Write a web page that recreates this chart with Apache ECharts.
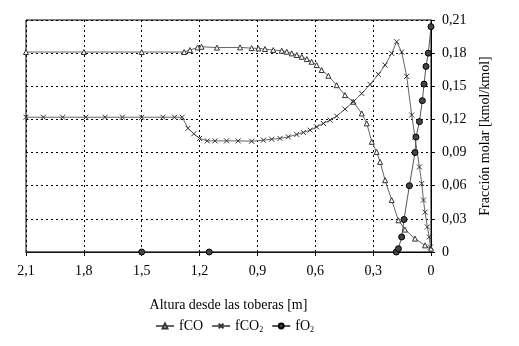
<!DOCTYPE html>
<html>
<head>
<meta charset="utf-8">
<script src="https://cdn.jsdelivr.net/npm/echarts@6/dist/echarts.min.js"></script>
<style>
  html, body { margin: 0; padding: 0; background: #fff; }
  #chart { width: 519px; height: 346px; }
</style>
</head>
<body>
<div id="chart"></div>
<script>
// alturas [m] y fracciones molares [kmol/kmol]
const coAltura = [2.1, 1.8, 1.5, 1.28, 1.25, 1.21, 1.19, 1.11, 0.99, 0.93, 0.895, 0.861, 0.818, 0.774, 0.748, 0.722, 0.696, 0.67, 0.644, 0.619, 0.593, 0.567, 0.532, 0.489, 0.446, 0.403, 0.359, 0.333, 0.307, 0.282, 0.264, 0.238, 0.204, 0.169, 0.135, 0.083, 0.031, 0];
const coFrac = [0.181, 0.181, 0.181, 0.181, 0.1828, 0.1852, 0.1858, 0.185, 0.1852, 0.1845, 0.1843, 0.1837, 0.1828, 0.1822, 0.1813, 0.1798, 0.1783, 0.1767, 0.1746, 0.1722, 0.1692, 0.1647, 0.1595, 0.151, 0.142, 0.136, 0.1254, 0.1164, 0.0997, 0.0906, 0.0816, 0.065, 0.047, 0.0287, 0.0203, 0.0121, 0.006, 0.003];

const co2Altura = [2.1, 2.01, 1.91, 1.79, 1.69, 1.6, 1.5, 1.39, 1.33, 1.29, 1.26, 1.23, 1.2, 1.16, 1.12, 1.06, 1.0, 0.93, 0.869, 0.826, 0.783, 0.74, 0.696, 0.662, 0.627, 0.593, 0.558, 0.523, 0.489, 0.446, 0.403, 0.359, 0.316, 0.273, 0.238, 0.204, 0.178, 0.152, 0.126, 0.1, 0.083, 0.06, 0.048, 0.039, 0.031, 0.019, 0.009, 0.003];
const co2Frac = [0.122, 0.122, 0.122, 0.122, 0.122, 0.122, 0.122, 0.122, 0.122, 0.122, 0.112, 0.107, 0.1028, 0.1006, 0.1006, 0.1006, 0.1006, 0.1003, 0.1012, 0.1021, 0.1028, 0.1042, 0.1064, 0.1082, 0.1103, 0.1133, 0.1164, 0.1194, 0.123, 0.1293, 0.136, 0.1435, 0.1517, 0.1608, 0.1692, 0.1798, 0.1903, 0.181, 0.159, 0.124, 0.104, 0.077, 0.062, 0.047, 0.036, 0.0227, 0.0136, 0.0045];

const o2Altura = [2.1, 1.5, 1.15, 0.18, 0.169, 0.152, 0.14, 0.112, 0.083, 0.078, 0.06, 0.045, 0.036, 0.026, 0.014, 0];
const o2Frac = [0, 0, 0, 0, 0.003, 0.0136, 0.0294, 0.06, 0.09, 0.104, 0.118, 0.137, 0.152, 0.168, 0.18, 0.204];

const xTicks = [0, 0.3, 0.6, 0.9, 1.2, 1.5, 1.8, 2.1];
const yTicks = [0, 0.03, 0.06, 0.09, 0.12, 0.15, 0.18, 0.21];

const pares = (xs, ys) => xs.map((x, i) => [x, ys[i]]);
const coma = v => (Math.round(v * 100) / 100).toString().replace(".", ",");
const font = "Liberation Serif";

// el primer punto de fO2 (en la esquina) no lleva marcador
const o2Datos = pares(o2Altura, o2Frac).map((p, i) => i === 0 ? { value: p, symbol: "none" } : p);

const chart = echarts.init(document.getElementById("chart"));

chart.setOption({
  backgroundColor: "#fff",
  animation: false,
  textStyle: { fontFamily: font, color: "#000" },
  grid: {
    left: 26,
    top: 20,
    width: 405,
    height: 232,
    show: true,
    borderColor: "#000",
    borderWidth: 1,
  },
  legend: {
    top: 314,
    left: 150,
    itemWidth: 18,
    itemHeight: 6,
    itemGap: 8,
    textStyle: {
      fontFamily: font,
      fontSize: 14,
      color: "#000",
      rich: {
        n: { fontFamily: font, fontSize: 14, color: "#000" },
        s: { fontFamily: font, fontSize: 8, color: "#000", padding: [7, 0, 0, 0] },
      },
    },
    formatter: name => name === "fCO" ? "{n|fCO}" : "{n|" + name.slice(0, -1) + "}{s|2}",
    data: ["fCO", "fCO2", "fO2"],
  },
  xAxis: {
    type: "value",
    inverse: true,
    min: 0,
    max: 2.1,
    interval: 0.3,
    name: "Altura desde las toberas [m]",
    nameLocation: "middle",
    nameGap: 46,
    nameTextStyle: { fontFamily: font, fontSize: 14, color: "#000" },
    axisLine: { lineStyle: { color: "#000", width: 1 } },
    axisTick: { show: true, length: 4, lineStyle: { color: "#000" } },
    axisLabel: {
      fontFamily: font,
      fontSize: 14,
      color: "#000",
      margin: 12,
      formatter: v => xTicks.some(t => Math.abs(t - v) < 1e-6) ? coma(v) : "",
    },
    splitLine: { show: true, lineStyle: { color: "#000", type: [2, 3], width: 1 } },
  },
  yAxis: {
    type: "value",
    position: "right",
    min: 0,
    max: 0.21,
    interval: 0.03,
    name: "Fracción molar [kmol/kmol]",
    nameLocation: "middle",
    nameGap: 47,
    nameRotate: 90,
    nameTextStyle: { fontFamily: font, fontSize: 14, color: "#000" },
    axisLine: { show: true, lineStyle: { color: "#000", width: 1 } },
    axisTick: { show: true, length: 4, lineStyle: { color: "#000" } },
    axisLabel: {
      fontFamily: font,
      fontSize: 14,
      color: "#000",
      margin: 11,
      formatter: v => yTicks.some(t => Math.abs(t - v) < 1e-6) ? coma(v) : "",
    },
    splitLine: { show: true, lineStyle: { color: "#000", type: [2, 3], width: 1 } },
  },
  series: [
    {
      name: "fCO",
      type: "line",
      data: pares(coAltura, coFrac),
      symbol: "triangle",
      symbolSize: 5,
      showAllSymbol: true,
      lineStyle: { color: "#666", width: 1 },
      itemStyle: { color: "#fff", borderColor: "#333", borderWidth: 1 },
    },
    {
      name: "fCO2",
      type: "line",
      data: pares(co2Altura, co2Frac),
      symbol: "path://M0,0L10,10M10,0L0,10",
      symbolSize: 5,
      showAllSymbol: true,
      lineStyle: { color: "#666", width: 1 },
      itemStyle: { color: "#333", borderColor: "#333", borderWidth: 1 },
    },
    {
      name: "fO2",
      type: "line",
      data: o2Datos,
      symbol: "circle",
      symbolSize: 6,
      showAllSymbol: true,
      lineStyle: { color: "#555", width: 1 },
      itemStyle: { color: "#444", borderColor: "#000", borderWidth: 1 },
    },
  ],
});
</script>
</body>
</html>
